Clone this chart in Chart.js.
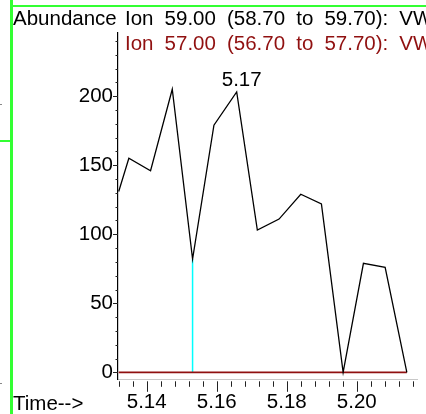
<!DOCTYPE html>
<html>
<head>
<meta charset="utf-8">
<script src="https://cdn.jsdelivr.net/npm/chart.js@4.4.0/dist/chart.umd.min.js"></script>
<style>
  body { margin: 0; background: #fff; }
  #wrap { position: relative; width: 426px; height: 414px; overflow: hidden; font-family: "Liberation Sans", Arial, sans-serif; }
  #wrap canvas { position: absolute; left: 0; top: 0; }
  .txt { position: absolute; font-size: 20.5px; line-height: 20px; white-space: pre; }
  .ion { word-spacing: 5.4px; }
  .green { position: absolute; background: #33ff33; }
  .dot { position: absolute; background: #888; width: 2px; height: 1px; }
</style>
</head>
<body>
<div id="wrap">
  <canvas id="chart" width="426" height="414"></canvas>
  <div class="green" style="left:10px; top:0; width:3px; height:414px;"></div>
  <div class="green" style="left:11px; top:5px; width:415px; height:2px;"></div>
  <div class="green" style="left:0; top:140px; width:11px; height:2px;"></div>
  <div class="dot" style="left:0; top:104px;"></div>
  <div class="dot" style="left:0; top:383px;"></div>
  <div class="txt" style="left:13px; top:8px; color:#000;">Abundance</div>
  <div class="txt ion" id="ion1" style="left:125px; top:8px; color:#000;"></div>
  <div class="txt ion" id="ion2" style="left:125px; top:33px; color:#901010;"></div>
  <div class="txt" style="left:13px; top:393px; color:#000;">Time--&gt;</div>
</div>
<script>
// chart data
let times  = [5.1320, 5.1349, 5.1411, 5.1473, 5.1531, 5.1592, 5.1657, 5.1716, 5.1778, 5.1840, 5.1899, 5.1961, 5.2019, 5.2081, 5.2143];
let ion59  = [131, 155, 146, 205, 82, 179, 203, 103, 111, 129, 122, 0, 79, 76, 0];
let ion57  = [0, 0, 0, 0, 0, 0, 0, 0, 0, 0, 0, 0, 0, 0, 0];
let markerTime = 5.1531;
let markerValue = 82;
let peakIndex = 6;
let peakLabel = "5.17";

let ionLabels = ["Ion 59.00 (58.70 to 59.70): VW0123.D\\data.ms", "Ion 57.00 (56.70 to 57.70): VW0123.D\\data.ms"];
let xTicks = [5.14, 5.16, 5.18, 5.20];
let yTicks = [0, 50, 100, 150, 200];

document.getElementById("ion1").textContent = ionLabels[0];
document.getElementById("ion2").textContent = ionLabels[1];

let fontFamily = '"Liberation Sans", Arial, sans-serif';

// tick marks (major + minor) drawn on the chart's own scales, plus the peak label
let tickPlugin = {
    id: 'tickMarks',
    afterDraw(chart) {
        let ctx = chart.ctx;
        let xs = chart.scales.x;
        let ys = chart.scales.y;
        let area = chart.chartArea;
        ctx.save();
        ctx.strokeStyle = '#222';
        ctx.lineWidth = 1;
        ctx.beginPath();
        // x minor every 0.004
        for (let i = 0; i <= 21; i++) {
            let v = 5.132 + i * 0.004;
            let px = Math.round(xs.getPixelForValue(v)) + 0.5;
            let major = xTicks.some(t => Math.abs(t - v) < 1e-6);
            ctx.moveTo(px, area.bottom + 2);
            ctx.lineTo(px, area.bottom + (major ? 12.5 : 7.5));
        }
        // y minor every 10
        for (let v = 0; v <= 240; v += 10) {
            let py = Math.round(ys.getPixelForValue(v)) + 0.5;
            let major = yTicks.includes(v);
            ctx.moveTo(area.left, py);
            ctx.lineTo(area.left - (major ? 5 : 2.5), py);
        }
        ctx.stroke();
        ctx.restore();
    },
    afterDatasetsDraw(chart) {
        let ctx = chart.ctx;
        let pt = chart.getDatasetMeta(0).data[peakIndex];
        ctx.save();
        ctx.fillStyle = '#000';
        ctx.font = '20.5px ' + fontFamily;
        ctx.textAlign = 'center';
        ctx.textBaseline = 'alphabetic';
        ctx.fillText(peakLabel, pt.x + 5, pt.y - 5.5);
        ctx.restore();
    }
};

let context = document.getElementById("chart").getContext('2d');

let data = {
    datasets: [
        {
            label: 'Ion 59.00',
            data: times.map((t, i) => ({x: t, y: ion59[i]})),
            borderColor: '#000',
            borderWidth: 1.3,
            pointRadius: 0,
            tension: 0,
            order: 1
        },
        {
            label: 'Ion 57.00',
            data: times.map((t, i) => ({x: t, y: ion57[i]})),
            borderColor: '#901010',
            borderWidth: 1.6,
            pointRadius: 0,
            tension: 0,
            order: 2
        },
        {
            label: 'marker',
            data: [{x: markerTime, y: 0}, {x: markerTime, y: markerValue}],
            borderColor: '#00ffff',
            borderWidth: 1.5,
            pointRadius: 0,
            order: 3
        }
    ]
};

let options = {
    responsive: false,
    animation: false,
    layout: { padding: { top: 33, right: 9, left: 0, bottom: 0 } },
    plugins: { legend: { display: false }, tooltip: { enabled: false } },
    scales: {
        x: {
            type: 'linear',
            min: 5.1318,
            max: 5.2172,
            afterFit: s => { s.height = 34.7; },
            afterBuildTicks: s => { s.ticks = xTicks.map(v => ({value: v})); },
            grid: { display: false, drawTicks: false },
            border: { display: true, color: '#c8c8c8', width: 1 },
            ticks: {
                autoSkip: false,
                maxRotation: 0,
                padding: 11,
                color: '#000',
                font: { family: fontFamily, size: 20.5 },
                callback: v => v.toFixed(2)
            }
        },
        y: {
            min: -5,
            max: 245.7,
            afterFit: s => { s.width = 118; },
            afterBuildTicks: s => { s.ticks = yTicks.map(v => ({value: v})); },
            grid: { display: false, drawTicks: false },
            border: { display: true, color: '#000', width: 1.2 },
            ticks: {
                padding: 5,
                color: '#000',
                font: { family: fontFamily, size: 20.5 }
            }
        }
    }
};

let config = {
    type: 'line',
    data: data,
    options: options,
    plugins: [tickPlugin]
};

let chromChart = new Chart(context, config);
</script>
</body>
</html>
